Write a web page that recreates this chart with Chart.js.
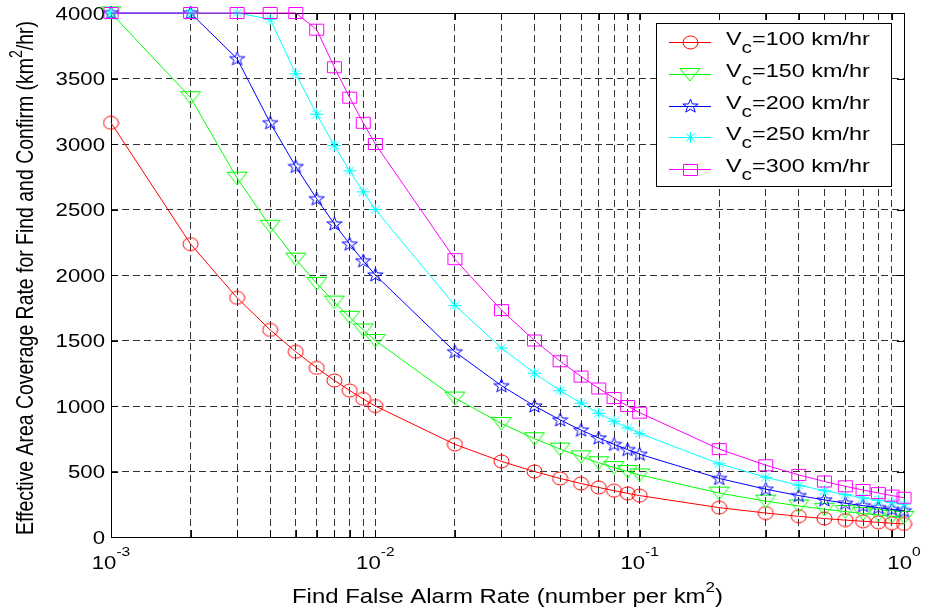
<!DOCTYPE html>
<html>
<head>
<meta charset="utf-8">
<script src="https://cdn.jsdelivr.net/npm/chart.js@4/dist/chart.umd.min.js"></script>
<style>
    html, body { margin: 0; padding: 0; background: #fff; }
</style>
</head>
<body>
<canvas id="coverage_chart" width="925" height="611"></canvas>
<script>
// x values (find false alarm rate, per km^2) - also where the minor grid lines sit
var alarmRates = [0.001, 0.002, 0.003, 0.004, 0.005, 0.006, 0.007, 0.008, 0.009,
                  0.01, 0.02, 0.03, 0.04, 0.05, 0.06, 0.07, 0.08, 0.09,
                  0.1, 0.2, 0.3, 0.4, 0.5, 0.6, 0.7, 0.8, 0.9, 1];
var speeds = [100, 150, 200, 250, 300];

// coverage rate (km^2/hr)
var cov100 = [3162, 2236, 1826, 1581, 1414, 1291, 1195, 1118, 1054, 1000, 707, 577, 500, 447, 408, 378, 354, 333, 316, 224, 183, 158, 141, 129, 120, 112, 105, 100];
var cov150 = [4000, 3354, 2739, 2372, 2121, 1936, 1793, 1677, 1581, 1500, 1061, 866, 750, 671, 612, 567, 530, 500, 474, 335, 274, 237, 212, 194, 179, 168, 158, 150];
var cov200 = [4000, 4000, 3651, 3162, 2828, 2582, 2390, 2236, 2108, 2000, 1414, 1155, 1000, 894, 816, 756, 707, 667, 632, 447, 365, 316, 283, 258, 239, 224, 211, 200];
var cov250 = [4000, 4000, 4000, 3953, 3536, 3227, 2988, 2795, 2635, 2500, 1768, 1443, 1250, 1118, 1021, 945, 884, 833, 791, 559, 456, 395, 354, 323, 299, 280, 264, 250];
var cov300 = [4000, 4000, 4000, 4000, 4000, 3873, 3586, 3354, 3162, 3000, 2121, 1732, 1500, 1342, 1225, 1134, 1061, 1000, 949, 671, 548, 474, 424, 387, 359, 335, 316, 300];

var xTickValues = [0.001, 0.01, 0.1, 1];
var xTickExps = ['-3', '-2', '-1', '0'];
var yTickValues = [0, 500, 1000, 1500, 2000, 2500, 3000, 3500, 4000];

var colors = ['#ff0000', '#00ff00', '#0000ff', '#00ffff', '#ff00ff'];
var FONT = '"Liberation Sans", Arial, sans-serif';

// marker glyphs, drawn once onto small canvases
function makeMarker(kind, color) {
    var c = document.createElement('canvas');
    var g = c.getContext('2d');
    var sizes = { circle: [17, 15], tri: [22, 15], star: [17, 16], ast: [15, 13], square: [17, 14] };
    c.width = sizes[kind][0];
    c.height = sizes[kind][1];
    g.strokeStyle = color;
    g.lineWidth = 1;
    g.beginPath();
    if (kind === 'circle') {
        g.ellipse(8.5, 7.5, 7.5, 6.5, 0, 0, Math.PI * 2);
    } else if (kind === 'tri') {
        g.moveTo(1, 1.5); g.lineTo(21, 1.5); g.lineTo(11, 14); g.closePath();
    } else if (kind === 'star') {
        for (var k = 0; k < 10; k++) {
            var r = (k % 2 === 0) ? 7.2 : 2.9;
            var a = -Math.PI / 2 + k * Math.PI / 5;
            var px = 8.5 + r * 1.12 * Math.cos(a), py = 8.3 + r * Math.sin(a);
            if (k === 0) g.moveTo(px, py); else g.lineTo(px, py);
        }
        g.closePath();
    } else if (kind === 'ast') {
        g.moveTo(7.5, 1); g.lineTo(7.5, 12);
        g.moveTo(1, 6.5); g.lineTo(14, 6.5);
        g.moveTo(3, 2.5); g.lineTo(12, 10.5);
        g.moveTo(12, 2.5); g.lineTo(3, 10.5);
    } else {
        g.rect(1.5, 1.5, 14, 11);
    }
    g.stroke();
    return c;
}
var markerKinds = ['circle', 'tri', 'star', 'ast', 'square'];
var markerImgs = markerKinds.map(function (k, i) { return makeMarker(k, colors[i]); });

// text with sub/superscripts; parts = [text, size, dy]
function richWidth(ctx, parts) {
    var w = 0;
    parts.forEach(function (p) {
        ctx.font = p[1] + 'px ' + FONT;
        w += ctx.measureText(p[0]).width;
    });
    return w;
}
function richText(ctx, parts, x, y, sx, sy, align) {
    var w = richWidth(ctx, parts);
    ctx.save();
    ctx.translate(x, y);
    ctx.scale(sx, sy);
    ctx.fillStyle = '#000';
    ctx.textAlign = 'left';
    ctx.textBaseline = 'alphabetic';
    var cx = align === 'center' ? -w / 2 : (align === 'right' ? -w : 0);
    parts.forEach(function (p) {
        ctx.font = p[1] + 'px ' + FONT;
        ctx.fillText(p[0], cx, p[2]);
        cx += ctx.measureText(p[0]).width;
    });
    ctx.restore();
}

var axesDecor = {
    id: 'axesDecor',
    beforeDatasetsDraw: function (chart) {
        var ctx = chart.ctx, a = chart.chartArea;
        var xs = chart.scales.x, ys = chart.scales.y;
        ctx.save();
        ctx.strokeStyle = '#000';
        ctx.lineWidth = 1;
        ctx.beginPath();
        ctx.rect(Math.round(a.left) + 0.5, Math.round(a.top) + 0.5, Math.round(a.right - a.left), Math.round(a.bottom - a.top));
        alarmRates.forEach(function (v) {
            var px = Math.round(xs.getPixelForValue(v)) + 0.5;
            ctx.moveTo(px, a.bottom); ctx.lineTo(px, a.bottom - 7);
            ctx.moveTo(px, a.top); ctx.lineTo(px, a.top + 7);
        });
        yTickValues.forEach(function (v) {
            var py = Math.round(ys.getPixelForValue(v)) + 0.5;
            ctx.moveTo(a.left, py); ctx.lineTo(a.left + 7, py);
            ctx.moveTo(a.right, py); ctx.lineTo(a.right - 7, py);
        });
        ctx.stroke();
        ctx.restore();

        // tick labels
        yTickValues.forEach(function (v) {
            richText(ctx, [[String(v), 18.5, 0]], a.left - 6, ys.getPixelForValue(v) + 6.6, 1.2, 1, 'right');
        });
        xTickValues.forEach(function (v, i) {
            richText(ctx, [['10', 18.5, 0], [xTickExps[i], 13, -13]], xs.getPixelForValue(v), 569, 1.2, 1, 'center');
        });

        // x title
        var xParts = [['Find False Alarm Rate (number per km', 21, 0], ['2', 15, -11], [')', 21, 0]];
        var xsx = 431 / richWidth(ctx, xParts);
        richText(ctx, xParts, (a.left + a.right) / 2, 603, xsx, 1, 'center');

        // y title (rotated)
        var yParts = [['Effective Area Coverage Rate for Find and Confirm (km', 19, 0], ['2', 14, -9], ['/hr)', 19, 0]];
        var ysx = 514 / richWidth(ctx, yParts);
        ctx.save();
        ctx.translate(33, 278);
        ctx.rotate(-Math.PI / 2);
        richText(ctx, yParts, 0, 0, ysx, 1.25, 'center');
        ctx.restore();
    },
    afterDraw: function (chart) {
        var ctx = chart.ctx;
        ctx.save();
        ctx.fillStyle = '#fff';
        ctx.fillRect(656, 23, 236, 164);
        ctx.strokeStyle = '#000';
        ctx.lineWidth = 1;
        ctx.strokeRect(656.5, 23.5, 235, 163);
        speeds.forEach(function (s, i) {
            var ry = 42.3 + i * 31.7;
            ctx.strokeStyle = colors[i];
            ctx.beginPath();
            ctx.moveTo(669, Math.round(ry) + 0.5);
            ctx.lineTo(711, Math.round(ry) + 0.5);
            ctx.stroke();
            var img = markerImgs[i];
            ctx.drawImage(img, Math.round(690 - img.width / 2), Math.round(ry + 0.5 - img.height / 2));
            richText(ctx, [['V', 18, 0], ['c', 16, 8], ['=' + s + ' km/hr', 18, 0]], 726, ry + 3, 1.3, 1, 'left');
        });
        ctx.restore();
    }
};

var seriesList = [cov100, cov150, cov200, cov250, cov300];
var datasets = seriesList.map(function (vals, i) {
    return {
        label: 'Vc=' + speeds[i] + ' km/hr',
        data: alarmRates.map(function (x, j) { return { x: x, y: vals[j] }; }),
        borderColor: colors[i],
        backgroundColor: colors[i],
        borderWidth: 1,
        pointStyle: markerImgs[i],
        pointRadius: 7,
        pointHoverRadius: 7,
        tension: 0,
        fill: false,
        clip: false,
        order: 4 - i
    };
});

var ctx = document.getElementById('coverage_chart');
var coverageChart = new Chart(ctx, {
    type: 'line',
    data: { datasets: datasets },
    options: {
        responsive: false,
        animation: false,
        layout: { padding: { top: 13, right: 21, left: 0, bottom: 0 } },
        plugins: { legend: { display: false }, tooltip: { enabled: false } },
        scales: {
            x: {
                type: 'logarithmic',
                min: 0.001,
                max: 1,
                afterBuildTicks: function (scale) {
                    scale.ticks = alarmRates.map(function (v) { return { value: v }; });
                },
                afterFit: function (scale) { scale.height = 74; },
                ticks: { display: false },
                grid: { color: '#333', lineWidth: 1, drawTicks: false },
                border: { display: false, dash: [7, 4] }
            },
            y: {
                min: 0,
                max: 4000,
                afterBuildTicks: function (scale) {
                    scale.ticks = yTickValues.map(function (v) { return { value: v }; });
                },
                afterFit: function (scale) { scale.width = 111; },
                ticks: { display: false },
                grid: { color: '#333', lineWidth: 1, drawTicks: false },
                border: { display: false, dash: [7, 4] }
            }
        }
    },
    plugins: [axesDecor]
});
</script>
</body>
</html>
